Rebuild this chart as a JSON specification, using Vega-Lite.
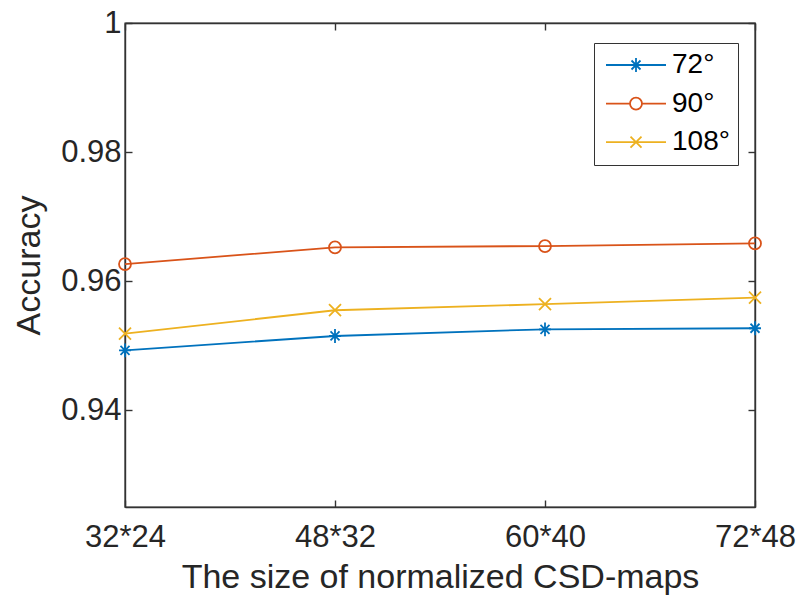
{
  "$schema": "https://vega.github.io/schema/vega-lite/v6.json",
  "autosize": "none",
  "width": 630,
  "height": 484,
  "padding": {"left": 125, "top": 23, "right": 43, "bottom": 92},
  "background": "white",
  "data": {
    "values": [
      {"size": "32*24", "angle": "72°", "acc": 0.94928},
      {"size": "48*32", "angle": "72°", "acc": 0.95150},
      {"size": "60*40", "angle": "72°", "acc": 0.95254},
      {"size": "72*48", "angle": "72°", "acc": 0.95270},
      {"size": "32*24", "angle": "90°", "acc": 0.96265},
      {"size": "48*32", "angle": "90°", "acc": 0.96523},
      {"size": "60*40", "angle": "90°", "acc": 0.96544},
      {"size": "72*48", "angle": "90°", "acc": 0.96585},
      {"size": "32*24", "angle": "108°", "acc": 0.95186},
      {"size": "48*32", "angle": "108°", "acc": 0.95549},
      {"size": "60*40", "angle": "108°", "acc": 0.95643},
      {"size": "72*48", "angle": "108°", "acc": 0.95745}
    ]
  },
  "layer": [
    {
      "mark": {"type": "line", "strokeWidth": 1.8},
      "encoding": {
        "x": {
          "field": "size", "type": "ordinal",
          "sort": ["32*24", "48*32", "60*40", "72*48"],
          "scale": {"type": "point", "padding": 0},
          "axis": {"orient": "bottom", "title": "The size of normalized CSD-maps", "labelAngle": 0, "tickSize": -7, "labelPadding": 22, "titlePadding": 8}
        },
        "y": {
          "field": "acc", "type": "quantitative",
          "scale": {"domain": [0.925, 1], "nice": false, "zero": false},
          "axis": {"orient": "left", "title": "Accuracy", "values": [0.94, 0.96, 0.98, 1], "format": ".2~f", "tickSize": -7, "labelPadding": 11, "titlePadding": 14}
        },
        "color": {
          "field": "angle", "type": "nominal",
          "scale": {"domain": ["72°", "90°", "108°"], "range": ["#0072BD", "#D95319", "#EDB120"]},
          "legend": null
        }
      }
    },
    {
      "mark": {"type": "point", "filled": false, "size": 144, "strokeWidth": 1.8, "opacity": 1},
      "encoding": {
        "x": {
          "field": "size", "type": "ordinal",
          "sort": ["32*24", "48*32", "60*40", "72*48"],
          "scale": {"type": "point", "padding": 0},
          "axis": {"orient": "top", "title": null, "labels": false, "domain": true, "tickSize": -7}
        },
        "y": {
          "field": "acc", "type": "quantitative",
          "scale": {"domain": [0.925, 1], "nice": false, "zero": false},
          "axis": {"orient": "right", "title": null, "labels": false, "domain": true, "values": [0.94, 0.96, 0.98, 1], "tickSize": -7}
        },
        "color": {"field": "angle", "type": "nominal", "legend": null},
        "shape": {
          "field": "angle", "type": "nominal",
          "scale": {"domain": ["72°", "90°", "108°"], "range": ["M-1,0L1,0M0,-1.15L0,1.15M-0.75,-0.75L0.75,0.75M-0.75,0.75L0.75,-0.75", "circle", "M-1,-1L1,1M-1,1L1,-1"]},
          "legend": null
        }
      }
    },
    {
      "mark": {"type": "point", "filled": false, "size": 100, "strokeWidth": 1.8, "opacity": 0},
      "encoding": {
        "x": {
          "field": "size", "type": "ordinal",
          "sort": ["32*24", "48*32", "60*40", "72*48"],
          "scale": {"type": "point", "padding": 0},
          "axis": null
        },
        "y": {
          "field": "acc", "type": "quantitative",
          "scale": {"domain": [0.925, 1], "nice": false, "zero": false},
          "axis": null
        },
        "color": {
          "field": "angle", "type": "nominal",
          "legend": {
            "orient": "none", "legendX": 469, "legendY": 20, "title": null,
            "labelFont": "Liberation Sans", "labelFontSize": 28, "labelColor": "black",
            "symbolSize": 100, "symbolStrokeWidth": 1.8, "symbolOpacity": 1,
            "symbolOffset": 20, "labelOffset": 22, "rowPadding": 10.6,
            "padding": 8, "strokeColor": "#333333", "fillColor": "white"
          }
        },
        "shape": {
          "field": "angle", "type": "nominal",
          "scale": {"domain": ["72°", "90°", "108°"], "range": [
            "M-6,0L6,0M-1.2,0L1.2,0M0,-1.4L0,1.4M-0.9,-0.9L0.9,0.9M-0.9,0.9L0.9,-0.9",
            "M-6,0L-1.2,0M1.2,0L6,0M1.2,0A1.2,1.2 0 1,1 -1.2,0A1.2,1.2 0 1,1 1.2,0",
            "M-6,0L6,0M-1.1,-1.1L1.1,1.1M-1.1,1.1L1.1,-1.1"
          ]},
          "legend": {
            "orient": "none", "legendX": 469, "legendY": 20, "title": null,
            "labelFont": "Liberation Sans", "labelFontSize": 28, "labelColor": "black",
            "symbolSize": 100, "symbolStrokeWidth": 1.8, "symbolOpacity": 1,
            "symbolOffset": 20, "labelOffset": 22, "rowPadding": 10.6,
            "padding": 8, "strokeColor": "#333333", "fillColor": "white"
          }
        }
      }
    }
  ],
  "resolve": {
    "axis": {"x": "independent", "y": "independent"},
    "scale": {"shape": "independent"},
    "legend": {"color": "independent", "shape": "independent"}
  },
  "config": {
    "view": {"stroke": "#333333", "strokeWidth": 1.4},
    "font": "Liberation Sans",
    "axis": {
      "grid": false,
      "labelFont": "Liberation Sans", "labelFontSize": 31, "labelColor": "#262626",
      "titleFont": "Liberation Sans", "titleFontSize": 34, "titleFontWeight": "normal", "titleColor": "#262626",
      "domainColor": "#333333", "tickColor": "#333333", "domainWidth": 1.4, "tickWidth": 1.4
    }
  }
}
